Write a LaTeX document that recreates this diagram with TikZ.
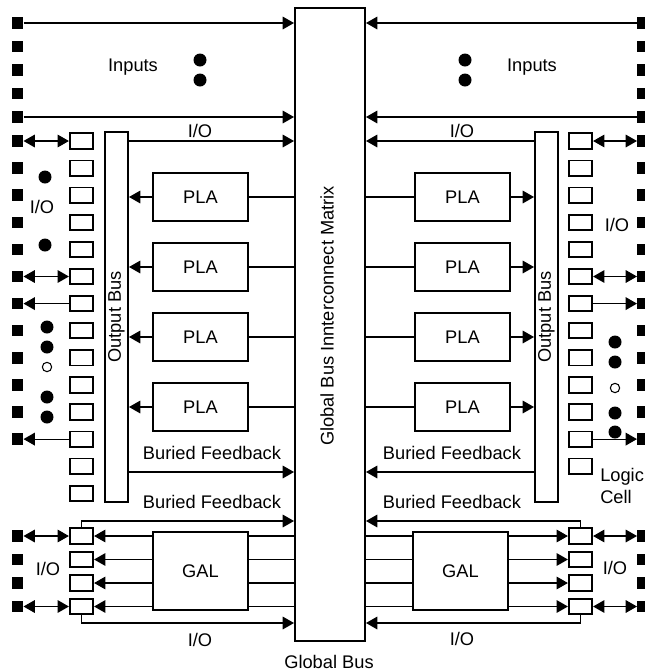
\documentclass[tikz,border=0pt]{standalone}
\usepackage{fontspec}
\setmainfont{Liberation Sans}
\usetikzlibrary{arrows.meta}
\begin{document}
\begin{tikzpicture}[x=0.75pt,y=-0.75pt,
  every node/.style={font=\fontsize{13.7}{16}\selectfont},
  conn/.style={line width=0.85pt},
  arr/.style={conn,-{Triangle[length=8.5pt,width=9.5pt]}},
  barr/.style={conn,{Triangle[length=8.5pt,width=9.5pt]}-{Triangle[length=8.5pt,width=9.5pt]}},
  blk/.style={draw,line width=1.5pt,fill=white,inner sep=0pt},
  pin/.style={fill=black,inner sep=0pt,minimum size=8.6pt},
  cell/.style={draw,line width=1.4pt,fill=white,inner sep=0pt,minimum width=17.5pt,minimum height=11.5pt},
  dotf/.style={circle,fill=black,inner sep=0pt,minimum size=9.75pt},
  doth/.style={circle,draw,line width=0.8pt,inner sep=0pt,minimum size=7pt},
  plabox/.style={blk,minimum width=71.25pt,minimum height=36pt},
  galbox/.style={blk,minimum width=71.25pt,minimum height=58.5pt},
  busbox/.style={blk,minimum width=17.25pt,minimum height=277.5pt}
]
\useasboundingbox (0,0) rectangle (645,672);
\clip (0,0) rectangle (645,672);

% central matrix
\node[blk,minimum width=52.5pt,minimum height=474.75pt] (mat) at (330,324.5) {};
\node[rotate=90] (matt) at (327,316) {Global Bus Innterconnect Matrix};
\node (gbus) at (329,662) {Global Bus};

% output buses
\node[busbox] (obL) at (116.5,317) {};
\node[rotate=90] (obLt) at (116.5,317) {Output Bus};
\node[busbox] (obR) at (546.5,317) {};
\node[rotate=90] (obRt) at (546.5,317) {Output Bus};

% input pins
\foreach \i/\y in {1/23,2/46.5,3/70,4/93.5,5/117} {
  \node[pin] (tL\i) at (17.5,\y) {};
  \node[pin] (tR\i) at (643,\y) {};
}
% logic cells and pins
\foreach \i in {1,...,14} {
  \pgfmathsetmacro\yy{141+27.1*(\i-1)}
  \node[cell] (cL\i) at (81.5,\yy) {};
}
\foreach \i in {1,...,13} {
  \pgfmathsetmacro\yy{141+27.1*(\i-1)}
  \node[cell] (cR\i) at (580.5,\yy) {};
}
\foreach \i in {1,...,12} {
  \pgfmathsetmacro\yy{141+27.1*(\i-1)}
  \node[pin] (pL\i) at (17.5,\yy) {};
  \node[pin] (pR\i) at (643,\yy) {};
}

% PLAs
\foreach \i/\y in {1/197,2/267,3/337,4/407} {
  \node[plabox] (plaL\i) at (200.5,\y) {PLA};
  \node[plabox] (plaR\i) at (462.5,\y) {PLA};
  \draw[conn] (mat.west |- plaL\i) -- (plaL\i.east);
  \draw[arr] (plaL\i.west) -- (obL.east |- plaL\i);
  \draw[conn] (mat.east |- plaR\i) -- (plaR\i.west);
  \draw[arr] (plaR\i.east) -- (obR.west |- plaR\i);
}

% GALs
\node[galbox] (galL) at (200.5,571) {GAL};
\node[galbox] (galR) at (460.5,571) {GAL};
\foreach \i in {1,...,4} {
  \pgfmathsetmacro\yy{536+23.5*(\i-1)}
  \node[cell] (gcL\i) at (81.5,\yy) {};
  \node[cell] (gcR\i) at (580.5,\yy) {};
  \node[pin] (gpL\i) at (17.5,\yy) {};
  \node[pin] (gpR\i) at (643,\yy) {};
}
\foreach \i in {1,...,4} {
  \draw[conn] (mat.west |- gcL\i) -- (galL.east |- gcL\i);
  \draw[arr] (galL.west |- gcL\i) -- (gcL\i.east);
  \draw[conn] (mat.east |- gcR\i) -- (galR.west |- gcR\i);
  \draw[arr] (galR.east |- gcR\i) -- (gcR\i.west);
}

% input connectors
\draw[arr] (tL1.east) -- (tL1.east -| mat.west);
\draw[arr] (tL5.east) -- (tL5.east -| mat.west);
\draw[arr] (tR1.west) -- (tR1.west -| mat.east);
\draw[arr] (tR5.west) -- (tR5.west -| mat.east);

% I/O from output buses
\draw[arr] (obL.east |- cL1) -- (mat.west |- cL1);
\draw[arr] (obR.west |- cR1) -- (mat.east |- cR1);

% pin connections
\draw[barr] (pL1.east) -- (cL1.west);
\draw[barr] (pL6.east) -- (cL6.west);
\draw[arr] (cL7.west) -- (pL7.east);
\draw[arr] (cL12.west) -- (pL12.east);
\draw[barr] (cR1.east) -- (pR1.west);
\draw[barr] (cR6.east) -- (pR6.west);
\draw[arr] (cR7.east) -- (pR7.west);
\draw[arr] (cR12.east) -- (pR12.west);
\draw[barr] (gpL1.east) -- (gcL1.west);
\draw[barr] (gpL4.east) -- (gcL4.west);
\draw[barr] (gcR1.east) -- (gpR1.west);
\draw[barr] (gcR4.east) -- (gpR4.west);

% buried feedback
\coordinate (bfy) at (0,472);
\coordinate (gfy) at (0,521);
\coordinate (ioy) at (0,623);
\draw[arr] (obL.east |- bfy) -- (mat.west |- bfy);
\draw[arr] (obR.west |- bfy) -- (mat.east |- bfy);
\draw[arr] (gcL1.north) |- (mat.west |- gfy);
\draw[arr] (gcR1.north) |- (mat.east |- gfy);
\draw[arr] (gcL4.south) |- (mat.west |- ioy);
\draw[arr] (gcR4.south) |- (mat.east |- ioy);

% labels
\node (inL) at (133,67) {Inputs};
\node (inR) at (532,67) {Inputs};
\node (ioTL) at (200,131) {I/O};
\node (ioTR) at (462,131) {I/O};
\node (ioL) at (42,207) {I/O};
\node (ioR) at (617,225) {I/O};
\node (bfL1) at (212,453) {Buried Feedback};
\node (bfL2) at (212,502) {Buried Feedback};
\node (bfR1) at (452,453) {Buried Feedback};
\node (bfR2) at (452,502) {Buried Feedback};
\node (ioGL) at (48,569) {I/O};
\node (ioGR) at (615,568) {I/O};
\node (ioBL) at (200,640) {I/O};
\node (ioBR) at (462,639) {I/O};
\node[anchor=west,inner sep=0pt] (lg1) at (600,477) {Logic};
\node[anchor=west,inner sep=0pt] (lg2) at (600,497) {Cell};

% dots
\node[dotf] (d1) at (200,60) {};
\node[dotf] (d2) at (200,80) {};
\node[dotf] (d3) at (465,60) {};
\node[dotf] (d4) at (465,80) {};
\node[dotf] (d5) at (45,177) {};
\node[dotf] (d6) at (45,245) {};
\node[dotf] (d7) at (47,327) {};
\node[dotf] (d8) at (47,347) {};
\node[doth] (d9) at (47,367) {};
\node[dotf] (d10) at (47,397) {};
\node[dotf] (d11) at (47,417) {};
\node[dotf] (d12) at (615,342) {};
\node[dotf] (d13) at (615,362) {};
\node[doth] (d14) at (615,388) {};
\node[dotf] (d15) at (615,413) {};
\node[dotf] (d16) at (615,432) {};
\end{tikzpicture}
\end{document}
